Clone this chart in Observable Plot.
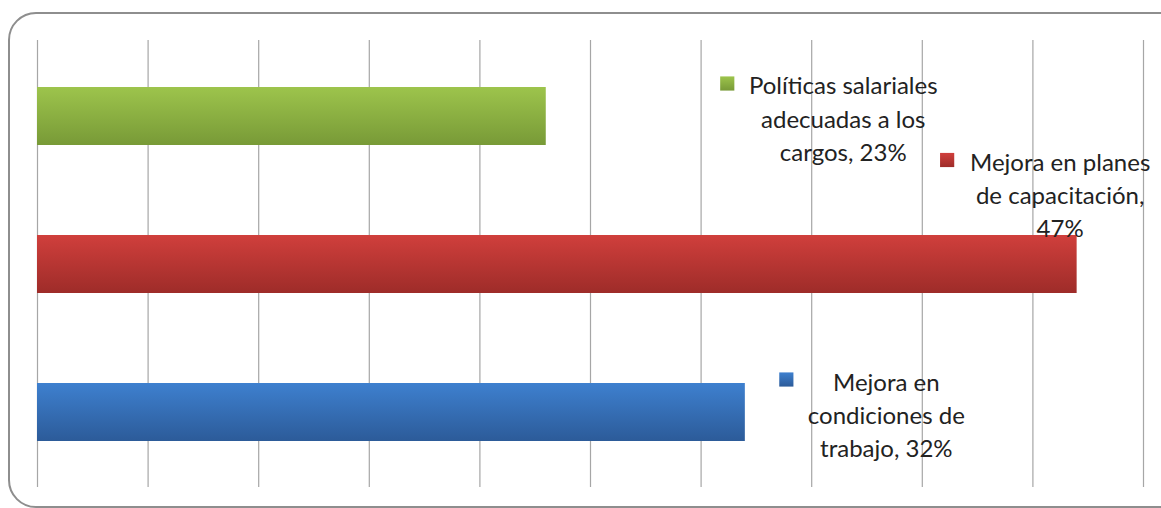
<!DOCTYPE html>
<html>
<head>
<meta charset="utf-8">
<script src="https://cdn.jsdelivr.net/npm/d3@7"></script>
<script src="https://cdn.jsdelivr.net/npm/@observablehq/plot@0.6"></script>
<style>
  html, body { margin: 0; padding: 0; background: #fff; overflow: hidden; }
  #wrap { position: relative; width: 1161px; height: 508px; overflow: hidden; }
  #frame { position: absolute; left: 8px; top: 12px; width: 1180px; height: 496px;
           border: 2px solid #8e8e8e; border-radius: 28px; box-sizing: border-box; }
  #chart { position: absolute; left: 0; top: 0; }
</style>
</head>
<body>
<div id="wrap"><div id="frame"></div><div id="chart"></div></div>
<script>
// ---- data ----
const categories = ["Políticas salariales adecuadas a los cargos", "Mejora en planes de capacitación", "Mejora en condiciones de trabajo"];
const values = [23, 47, 32];
const labelLines = [
  ["Políticas salariales", "adecuadas a los", "cargos, 23%"],
  ["Mejora en planes", "de capacitación,", "47%"],
  ["Mejora en", "condiciones de", "trabajo, 32%"]
];
const xTicks = [0, 5, 10, 15, 20, 25, 30, 35, 40, 45, 50];

// ---- styles / layout ----
const gradients = [
  {id: "gGreen", top: "#9dc44c", bottom: "#789a37"},
  {id: "gRed",   top: "#d03f3c", bottom: "#9e2c29"},
  {id: "gBlue",  top: "#3e80cf", bottom: "#2c5b99"}
];
// label block offsets (pixels) relative to the bar end / bar centre
const labelOffsets = [
  {dx: 297, dy: 0.5},
  {dx: -17, dy: -71},
  {dx: 141, dy: 1}
];
const squareOffsets = [
  {dx: 181, dy: -33},
  {dx: -130, dy: -104.5},
  {dx: 41, dy: -33}
];

const data = categories.map((c, i) => ({cat: c, value: values[i], i}));

const marks = [
  Plot.ruleX(xTicks, {stroke: "#a6a6a6", strokeWidth: 1.2}),
  Plot.barX(data, {
    x: "value", y: "cat",
    fill: d => `url(#${gradients[d.i].id})`,
    style: "filter:url(#shadow)"
  })
];
data.forEach((d, i) => {
  marks.push(Plot.text([d], {
    x: "value", y: "cat",
    text: () => labelLines[i].join("\n"),
    dx: labelOffsets[i].dx, dy: labelOffsets[i].dy,
    lineAnchor: "middle", lineHeight: 1.38, textAnchor: "middle",
    fontSize: 24, fill: "#222"
  }));
  marks.push(Plot.dot([d], {
    x: "value", y: "cat",
    symbol: "square", r: 8,
    fill: `url(#${gradients[i].id})`,
    dx: squareOffsets[i].dx, dy: squareOffsets[i].dy
  }));
});

const chart = Plot.plot({
  width: 1161, height: 508,
  marginLeft: 37, marginRight: 18, marginTop: 40, marginBottom: 21,
  style: {fontFamily: "Lato, 'Open Sans', sans-serif", background: "transparent", overflow: "visible"},
  x: {domain: [0, 50], axis: null},
  y: {domain: categories, axis: null, range: [42, 487], paddingInner: 0.605, paddingOuter: 0.3025},
  marks
});

// add gradients and shadow filter
const ns = "http://www.w3.org/2000/svg";
const defs = document.createElementNS(ns, "defs");
let html = `<filter id="shadow" x="-5%" y="-20%" width="110%" height="160%">
  <feDropShadow dx="2" dy="4" stdDeviation="3" flood-color="#000" flood-opacity="0.28"/></filter>`;
gradients.forEach(g => {
  html += `<linearGradient id="${g.id}" x1="0" y1="0" x2="0" y2="1">
    <stop offset="0" stop-color="${g.top}"/><stop offset="1" stop-color="${g.bottom}"/></linearGradient>`;
});
defs.innerHTML = html;
chart.insertBefore(defs, chart.firstChild);
document.getElementById("chart").appendChild(chart);
</script>
</body>
</html>
